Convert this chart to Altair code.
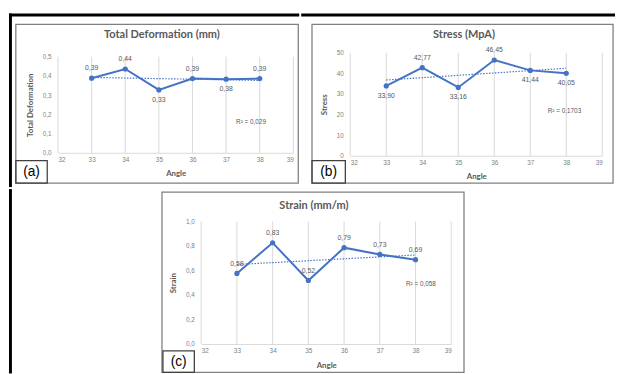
import altair as alt
import pandas as pd

# ---------------- data ----------------
angles = [33, 34, 35, 36, 37, 38]
deformation = [0.388, 0.436, 0.327, 0.386, 0.383, 0.386]
stress = [33.90, 42.77, 33.16, 46.45, 41.44, 40.05]
strain = [0.576, 0.826, 0.518, 0.786, 0.731, 0.688]

deformation_side = ["above", "above", "below", "above", "below", "above"]
stress_side = ["below", "above", "below", "above", "below", "below"]
strain_side = ["above", "above", "above", "above", "above", "above"]

x_ticks = [32, 33, 34, 35, 36, 37, 38, 39]
deformation_ticks = [0.0, 0.1, 0.2, 0.3, 0.4, 0.5]
stress_ticks = [0, 10, 20, 30, 40, 50]
strain_ticks = [0.0, 0.2, 0.4, 0.6, 0.8, 1.0]

panel_titles = ["Total Deformation (mm)", "Stress (MpA)", "Strain (mm/m)"]
y_titles = ["Total Deformation", "Stress", "Strain"]
r2_texts = ["R² = 0,029", "R² = 0,1703", "R² = 0,058"]
panel_tags = ["(a)", "(b)", "(c)"]
x_title = "Angle"

# ---------------- style ----------------
BLUE = "#4472C4"
FONT = "Lato"
NUMFONT = "Liberation Sans"
GREY_TXT = "#595959"
GREY_LBL = "#7f7f7f"
GRID = "#d9d9d9"

one = pd.DataFrame({"k": [0]})


def rect(x1, x2, y1, y2, **kw):
    return alt.Chart(one).mark_rect(**kw).encode(
        x=alt.value(x1), x2=alt.value(x2), y=alt.value(y1), y2=alt.value(y2)
    )


def text_at(txt, x, y, **kw):
    return alt.Chart(one).mark_text(text=txt, **kw).encode(
        x=alt.value(x), y=alt.value(y)
    )


def fmt(v):
    return f"{v:.2f}".replace(".", ",")


def panel(values, sides, yticks, ydomain, yrange, ylabel_expr, w, h, title, ytitle,
          tag, r2, r2x, r2y, box, frames, tag_box, tag_xy, title_xy):
    df = pd.DataFrame({
        "angle": angles,
        "value": values,
        "label": [fmt(v) for v in values],
        "side": sides,
    })
    grid_df = pd.DataFrame({
        "angle": x_ticks,
        "value": [ydomain[0]] * len(x_ticks),
        "value2": [ydomain[1]] * len(x_ticks),
    })
    if yrange is not None:
        yscale = alt.Scale(domain=ydomain, nice=False, zero=False, range=yrange)
    else:
        yscale = alt.Scale(domain=ydomain, nice=False, zero=False)
    x_enc = alt.X(
        "angle:Q",
        scale=alt.Scale(domain=[32, 39], nice=False, zero=False),
        axis=alt.Axis(
            values=x_ticks, title=x_title, grid=False, labelOverlap=False,
            labelSeparation=0, domainColor=GRID, ticks=False, labelColor=GREY_LBL,
            labelFontSize=6.5, labelFont=NUMFONT, labelPadding=4, titleFont=FONT,
            titleFontSize=8, titleFontWeight="bold", titleColor=GREY_TXT,
            titlePadding=7,
        ),
    )
    y_enc = alt.Y(
        "value:Q",
        scale=yscale,
        axis=alt.Axis(
            values=yticks, title=ytitle, grid=False, domain=False, ticks=False,
            labelOverlap=False, labelSeparation=0, labelExpr=ylabel_expr,
            labelColor=GREY_LBL, labelFontSize=6.5, labelFont=NUMFONT,
            labelPadding=7, titleFont=FONT, titleFontSize=8,
            titleFontWeight="bold", titleColor=GREY_TXT, titlePadding=8,
        ),
    )
    grid = alt.Chart(grid_df).mark_rule(color=GRID, strokeWidth=1).encode(
        x=x_enc, y=y_enc, y2="value2"
    )
    base = alt.Chart(df)
    line = base.mark_line(color=BLUE, strokeWidth=2).encode(x=x_enc, y=y_enc)
    trend = base.transform_regression("angle", "value").mark_line(
        color=BLUE, strokeWidth=1.2, strokeDash=[1.5, 1.5]
    ).encode(x=x_enc, y=y_enc)
    pts = base.mark_point(filled=True, size=28, color=BLUE, opacity=1).encode(
        x=x_enc, y=y_enc
    )
    lab_up = base.transform_filter(alt.datum.side == "above").mark_text(
        dy=-10, fontSize=7, font=NUMFONT, color=GREY_TXT
    ).encode(x=x_enc, y=y_enc, text="label:N")
    lab_dn = base.transform_filter(alt.datum.side == "below").mark_text(
        dy=10, fontSize=7, font=NUMFONT, color=GREY_TXT
    ).encode(x=x_enc, y=y_enc, text="label:N")
    r2_df = pd.DataFrame({"angle": [r2x], "value": [r2y], "t": [r2]})
    r2_txt = alt.Chart(r2_df).mark_text(fontSize=6.5, font=NUMFONT, color=GREY_TXT).encode(
        x=x_enc, y=y_enc, text="t:N"
    )
    layers = [grid, line, trend, pts, lab_up, lab_dn, r2_txt]
    layers.append(rect(*box, filled=False, color="#808080", strokeWidth=1.3))
    for fr in frames:
        layers.append(rect(*fr, color="#000000", strokeWidth=0))
    layers.append(rect(*tag_box, filled=False, color="#404040", strokeWidth=1.3))
    layers.append(text_at(tag, tag_xy[0], tag_xy[1], font=NUMFONT, fontSize=14,
                          color="#000000", baseline="middle", align="center"))
    layers.append(text_at(title, title_xy[0], title_xy[1], font=FONT, fontSize=11.2,
                          fontWeight="bold", color=GREY_TXT, baseline="middle",
                          align="center"))
    return alt.layer(*layers).properties(width=w, height=h)


dec1 = "replace(format(datum.value, '.1f'), '.', ',')"
intf = "format(datum.value, 'd')"

# panel (a): plot origin page (58,49); 0.5 drawn 4px below the top
pa = panel(deformation, deformation_side, deformation_ticks, [0, 0.5], [102, 4], dec1,
           240, 102, panel_titles[0], y_titles[0], panel_tags[0],
           r2_texts[0], 37.74, 0.158,
           box=(-43, 245, -29, 133),
           frames=[(-50, 246, -40, -37), (-50, -47, -40, 137)],
           tag_box=(-43, -11, 110, 133), tag_xy=(-27, 122), title_xy=(106, -18))

# panel (b): plot origin page (354,49)
pb = panel(stress, stress_side, stress_ticks, [0, 50], None, intf,
           257, 105, panel_titles[1], y_titles[1], panel_tags[1],
           r2_texts[1], 37.95, 21.7,
           box=(-39, 268, -29, 133),
           frames=[(-50, 270, -40, -37)],
           tag_box=(-39, -5, 110, 133), tag_xy=(-22, 122), title_xy=(116, -18))

# panel (c): plot origin page (202,219)
pc = panel(strain, strain_side, strain_ticks, [0, 1.0], None, dec1,
           255, 125, panel_titles[2], y_titles[2], panel_tags[2],
           r2_texts[2], 38.15, 0.49,
           box=(-40, 268, -30, 154),
           frames=[],
           tag_box=(-39, -7, 132, 154), tag_xy=(-23, 143), title_xy=(115, -16))

# spacer holding the lower part of the outer frame, origin page (58,219)
spacer = rect(-50, -47, -33, 155, color="#000000", strokeWidth=0).properties(
    width=103, height=10
)

top = alt.hconcat(pa, pb, spacing=0)
bottom = alt.hconcat(spacer, pc, spacing=0)
chart = alt.vconcat(top, bottom, spacing=0).properties(
    padding={"left": 0, "top": 1, "right": 0, "bottom": 0}
).configure_view(stroke="transparent").configure_axis(labelOverlap=False)

chart.save("out.html", embed_options={"renderer": "svg", "actions": False})
